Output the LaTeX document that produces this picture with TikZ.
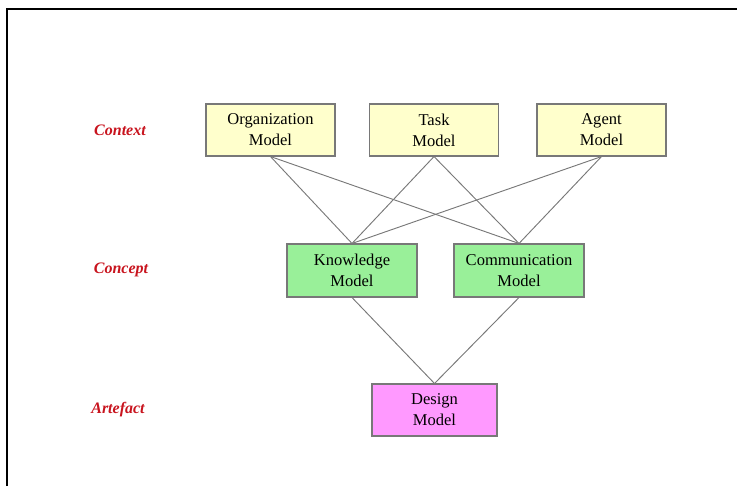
\documentclass[tikz,border=0pt]{standalone}
\usepackage{fontspec}
\setmainfont{Liberation Serif}
\definecolor{boxyellow}{RGB}{255,255,204}
\definecolor{boxgreen}{RGB}{153,240,153}
\definecolor{boxpink}{RGB}{255,153,255}
\definecolor{edgegray}{RGB}{120,120,120}
\definecolor{lblred}{RGB}{200,20,30}
\begin{document}
\begin{tikzpicture}[x=0.75pt,y=-0.75pt,
  model/.style={draw=edgegray,line width=0.8pt,minimum width=129*0.75pt,minimum height=52*0.75pt,inner sep=0pt,align=center,font=\fontsize{12.4}{15.8}\selectfont,text=black},
  layer/.style={font=\fontsize{12}{14}\selectfont\bfseries\itshape,text=lblred},
  link/.style={draw=edgegray,line width=0.7pt}]
\useasboundingbox (0,0) rectangle (737,486);
\draw[line width=1.8pt] (7,486) -- (7,9) -- (737,9);
\node[model,fill=boxyellow] (org) at (270.5,130) {Organization\\Model};
\node[model,fill=boxyellow] (task) at (434,130) {Task\\Model};
\node[model,fill=boxyellow] (agent) at (601.5,130) {Agent\\Model};
\node[model,fill=boxgreen,minimum width=130*0.75pt,minimum height=53*0.75pt] (know) at (352,270.5) {Knowledge\\Model};
\node[model,fill=boxgreen,minimum width=130*0.75pt,minimum height=53*0.75pt] (comm) at (519,270.5) {Communication\\Model};
\node[model,fill=boxpink,minimum width=125*0.75pt] (design) at (434.5,410) {Design\\Model};
\node[layer] (ctx) at (120,130) {Context};
\node[layer] (cpt) at (121,270) {Concept};
\node[layer] (art) at (118,410) {Artefact};
\foreach \a in {org,task,agent}{
  \draw[link] (\a.south) -- (know.north);
  \draw[link] (\a.south) -- (comm.north);
}
\draw[link] (know.south) -- (design.north);
\draw[link] (comm.south) -- (design.north);
\end{tikzpicture}
\end{document}
